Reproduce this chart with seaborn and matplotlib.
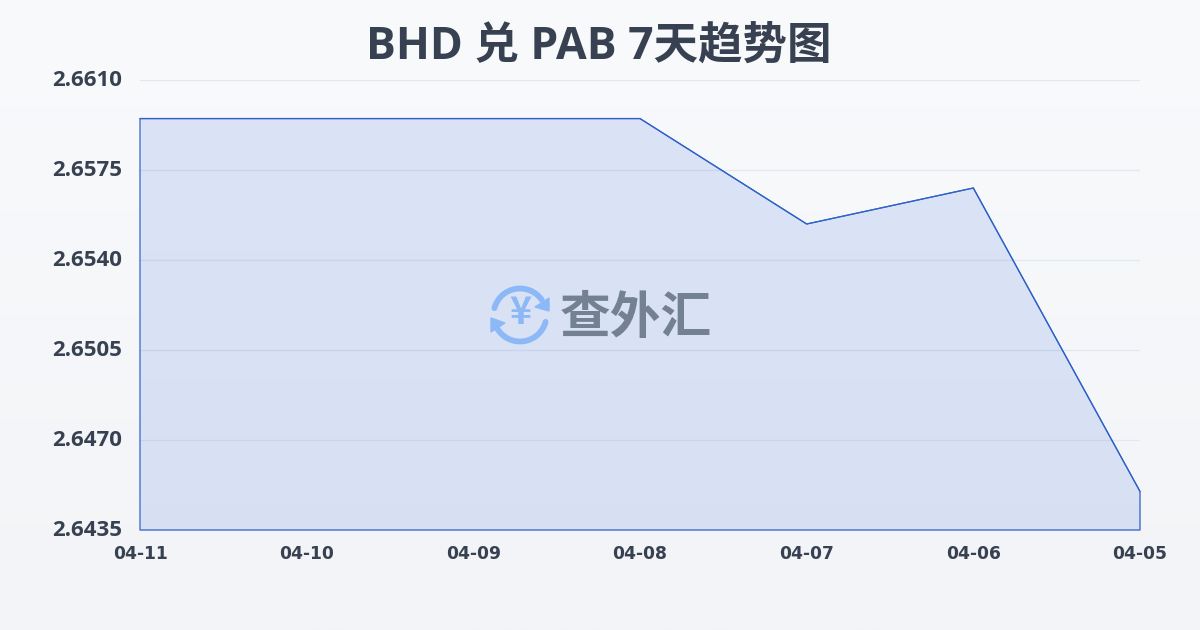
import numpy as np
import pandas as pd
import seaborn as sns
import matplotlib
matplotlib.use("Agg")
import matplotlib.pyplot as plt
from matplotlib.patches import Arc, Polygon
from matplotlib.transforms import ScaledTranslation

dates = ["04-11", "04-10", "04-09", "04-08", "04-07", "04-06", "04-05"]
rates = [2.6595, 2.6595, 2.6595, 2.6595, 2.6554, 2.6568, 2.6450]
y_ticks = [2.6435, 2.6470, 2.6505, 2.6540, 2.6575, 2.6610]
title = "BHD 兑 PAB 7天趋势图"
watermark = "查外汇"

sns.set_theme(style="white")
plt.rcParams["font.family"] = ["Open Sans", "Noto Sans CJK SC", "DejaVu Sans"]

INK = "#374151"
LINE = "#2f62c9"
W, H = 1200, 630
fig = plt.figure(figsize=(12, 6.3), dpi=100)

# page background gradient
bg = fig.add_axes([0, 0, 1, 1], zorder=0)
bg.imshow(np.linspace(0, 1, 256).reshape(-1, 1), aspect="auto", extent=(0, 1, 0, 1),
          cmap=matplotlib.colors.LinearSegmentedColormap.from_list("bg", ["#f8fafc", "#f3f4f7"]))
bg.axis("off")

ax = fig.add_axes([140 / W, 1 - 530 / H, 1000 / W, 450 / H], zorder=1)
ax.patch.set_alpha(0)
df = pd.DataFrame({"date": dates, "rate": rates, "pos": np.arange(len(dates))})
ax.fill_between(df["pos"], df["rate"], y_ticks[0], facecolor="#2055d8", alpha=0.13, lw=0, zorder=2)
ax.fill_between(df["pos"], df["rate"], y_ticks[0], facecolor="none", edgecolor=LINE, lw=0.9, zorder=3, clip_on=False)
sns.lineplot(data=df, x="pos", y="rate", color=LINE, lw=0.9, ax=ax, zorder=4, clip_on=False)

ax.set_xlim(0, len(dates) - 1)
ax.set_ylim(y_ticks[0], y_ticks[-1])
ax.set_xticks(df["pos"], dates)
ax.set_yticks(y_ticks, [f"{v:.4f}" for v in y_ticks])
ax.set_xlabel("")
ax.set_ylabel("")
ax.grid(axis="y", color="#e2e8f0", lw=0.9, zorder=1)
ax.set_axisbelow(True)
for s in ax.spines.values():
    s.set_visible(False)
ax.tick_params(axis="y", length=0, pad=13, labelsize=16, labelcolor=INK)
ax.tick_params(axis="x", length=7, width=0.8, color="#e2e8f0", pad=4, labelsize=12.3, labelcolor=INK)
up = ScaledTranslation(0, 2 / 100, fig.dpi_scale_trans)
for t in ax.get_yticklabels():
    t.set_fontweight("bold")
    t.set_transform(t.get_transform() + up)
for t in ax.get_xticklabels():
    t.set_fontweight("bold")
    t.set_family("DejaVu Sans")

fig.text(599 / W, 1 - 47 / H, title, ha="center", va="center", fontsize=32, fontweight="bold",
         color=INK, family=["Open Sans", "Noto Sans CJK SC"])

# watermark logo, in pixel coordinates
ov = fig.add_axes([0, 0, 1, 1], zorder=5)
ov.set_xlim(0, W)
ov.set_ylim(H, 0)
ov.axis("off")
BLUE = "#8db8f8"
cx, cy, r = 520, 315, 26.5
ov.add_patch(Arc((cx, cy), 2 * r, 2 * r, theta1=195, theta2=325, color=BLUE, lw=4.2, capstyle="round"))
ov.add_patch(Arc((cx, cy), 2 * r, 2 * r, theta1=15, theta2=150, color=BLUE, lw=4.2, capstyle="round"))
ov.add_patch(Polygon([(549, 298), (549, 311), (535, 307)], color=BLUE))
ov.add_patch(Polygon([(491, 318), (491, 332), (505, 323)], color=BLUE))
ov.text(520, 313, "¥", ha="center", va="center", fontsize=27, fontweight="bold", color=BLUE,
        family="Noto Sans CJK SC")
ov.text(636, 318, watermark, ha="center", va="center", fontsize=36.5, fontweight="bold",
        color="#748094", family="Noto Sans CJK SC")

fig.savefig("out.png", dpi=100)
